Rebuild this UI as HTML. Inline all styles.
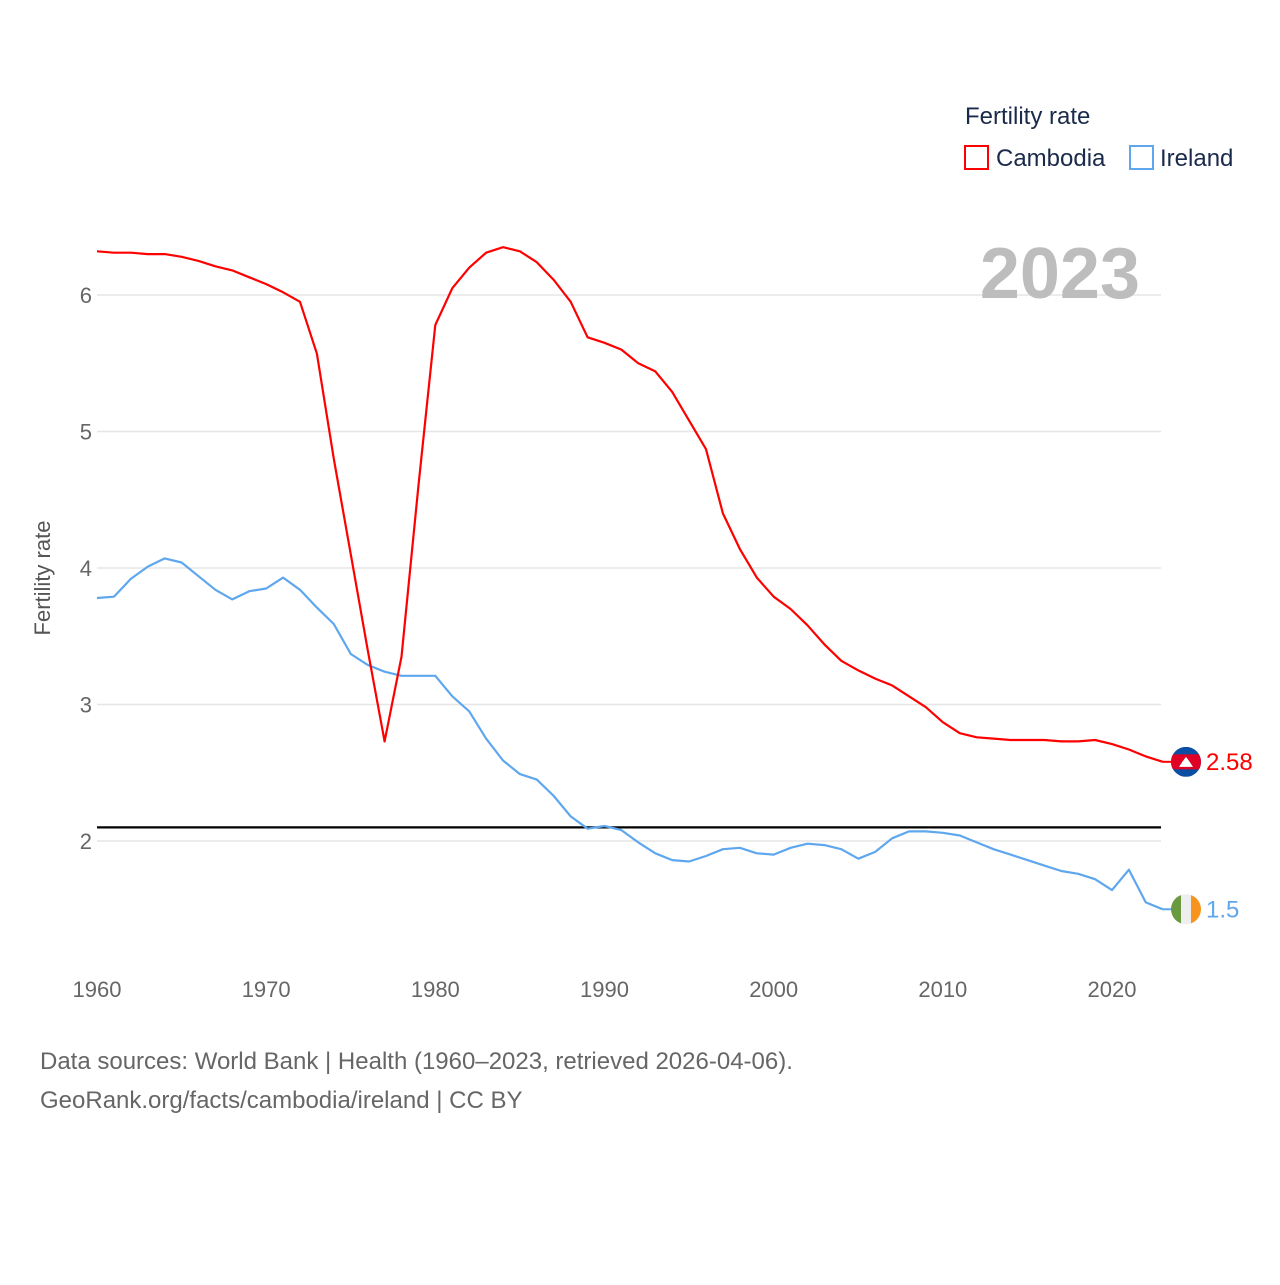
<!DOCTYPE html>
<html><head><meta charset="utf-8"><style>
body{margin:0;background:#fff;font-family:"Liberation Sans",sans-serif}
</style></head><body>
<svg id="chart" width="1280" height="1280" xmlns="http://www.w3.org/2000/svg" font-family="Liberation Sans, sans-serif">
<rect width="1280" height="1280" fill="#fff"/>
<g id="grid"></g>
<g id="xt"></g>
<g id="lines"></g>
<text x="1140" y="298" text-anchor="end" font-size="72" font-weight="bold" fill="#bdbdbd">2023</text>
<text transform="translate(50,578) rotate(-90)" text-anchor="middle" font-size="22" fill="#555">Fertility rate</text>
<g>
<text x="965" y="124" font-size="24" fill="#1a2a4a">Fertility rate</text>
<rect x="965" y="146" width="23" height="23" fill="none" stroke="#f00" stroke-width="2"/>
<text x="996" y="166" font-size="24" fill="#1a2a4a">Cambodia</text>
<rect x="1130" y="146" width="23" height="23" fill="none" stroke="#5ea7ee" stroke-width="2"/>
<text x="1160" y="166" font-size="24" fill="#1a2a4a">Ireland</text>
</g>
<text x="40" y="1069" font-size="24" fill="#666">Data sources: World Bank | Health (1960–2023, retrieved 2026-04-06).</text>
<text x="40" y="1108" font-size="24" fill="#666">GeoRank.org/facts/cambodia/ireland | CC BY</text>
<g id="ends"></g>
</svg>
<script>
const years=[];for(let y=1960;y<=2023;y++)years.push(y);
const cambodia=[6.32,6.31,6.31,6.30,6.30,6.28,6.25,6.21,6.18,6.13,6.08,6.02,5.95,5.57,4.8,4.1,3.4,2.73,3.35,4.6,5.78,6.05,6.2,6.31,6.35,6.32,6.24,6.11,5.95,5.69,5.65,5.60,5.50,5.44,5.29,5.08,4.87,4.40,4.14,3.93,3.79,3.70,3.58,3.44,3.32,3.25,3.19,3.14,3.06,2.98,2.87,2.79,2.76,2.75,2.74,2.74,2.74,2.73,2.73,2.74,2.71,2.67,2.62,2.58];
const ireland=[3.78,3.79,3.92,4.01,4.07,4.04,3.94,3.84,3.77,3.83,3.85,3.93,3.84,3.71,3.59,3.37,3.29,3.24,3.21,3.21,3.21,3.06,2.95,2.75,2.59,2.49,2.45,2.33,2.18,2.09,2.11,2.08,1.99,1.91,1.86,1.85,1.89,1.94,1.95,1.91,1.90,1.95,1.98,1.97,1.94,1.87,1.92,2.02,2.07,2.07,2.06,2.04,1.99,1.94,1.90,1.86,1.82,1.78,1.76,1.72,1.64,1.79,1.55,1.50];
const yTicks=[2,3,4,5,6];
const xTicks=[1960,1970,1980,1990,2000,2010,2020];
const replacement=2.1;
const NS="http://www.w3.org/2000/svg";
const X=y=>97+(y-1960)*(1112-97)/60;
const Y=v=>841-(v-2)*136.5;
function mk(t,a,p){const e=document.createElementNS(NS,t);for(const k in a)e.setAttribute(k,a[k]);p.appendChild(e);return e;}
const grid=document.getElementById('grid');
yTicks.forEach(v=>{
 const l=mk('line',{x1:97,x2:1161,y1:Y(v),y2:Y(v),stroke:'#e6e6e6','stroke-width':1.5},grid);
 
 
 const t=mk('text',{x:92,y:Y(v)+8,'text-anchor':'end','font-size':22,fill:'#666'},grid);t.textContent=v;
 
 
});
const xt=document.getElementById('xt');
xTicks.forEach(v=>{
 const t=mk('text',{x:X(v),y:997,'text-anchor':'middle','font-size':22,fill:'#666'},xt);t.textContent=v;
 
 
});
const lines=document.getElementById('lines');
const ref=mk('line',{x1:97,x2:1161,y1:Y(replacement),y2:Y(replacement),stroke:'#000','stroke-width':2.2},lines);


function path(arr,c,n){
 const p=mk('path',{d:arr.map((v,i)=>(i?'L':'M')+X(years[i]).toFixed(1)+','+Y(v).toFixed(1)).join(''),fill:'none',stroke:c,'stroke-width':2.2,'stroke-linejoin':'round'},lines);
 
 
}
path(ireland,'#5ea7ee','ireland-line');
path(cambodia,'#f00','cambodia-line');
const ends=document.getElementById('ends');
const last=years.length-1;
const cx=1186;
// Cambodia flag
let cy=Y(cambodia[last]);
mk('line',{x1:X(years[last]),x2:cx-14,y1:cy,y2:cy,stroke:'#f00','stroke-width':2},ends);
const cc=mk('clipPath',{id:'cc'},ends);mk('circle',{cx:cx,cy:cy,r:15},cc);
const fg=mk('g',{'clip-path':'url(#cc)'},ends);


mk('rect',{x:cx-15,y:cy-15,width:30,height:30,fill:'#0b4ea2'},fg);
mk('rect',{x:cx-15,y:cy-7.5,width:30,height:15,fill:'#e00025'},fg);
mk('path',{d:`M${cx-7} ${cy+5}L${cx+7} ${cy+5}L${cx+3} ${cy-1}L${cx} ${cy-5}L${cx-3} ${cy-1}Z`,fill:'#fff'},fg);
let t=mk('text',{x:1206,y:cy+8,'font-size':24,fill:'#f00'},ends);t.textContent=cambodia[last];


// Ireland flag
cy=Y(ireland[last]);
mk('line',{x1:X(years[last]),x2:cx-14,y1:cy,y2:cy,stroke:'#5ea7ee','stroke-width':2},ends);
const ci=mk('clipPath',{id:'ci'},ends);mk('circle',{cx:cx,cy:cy,r:15},ci);
const ig=mk('g',{'clip-path':'url(#ci)'},ends);


mk('rect',{x:cx-15,y:cy-15,width:10,height:30,fill:'#6a9a3f'},ig);
mk('rect',{x:cx-5,y:cy-15,width:10,height:30,fill:'#eee'},ig);
mk('rect',{x:cx+5,y:cy-15,width:10,height:30,fill:'#f7941d'},ig);
t=mk('text',{x:1206,y:cy+8,'font-size':24,fill:'#5ea7ee'},ends);t.textContent=ireland[last];


</script>
</body></html>
